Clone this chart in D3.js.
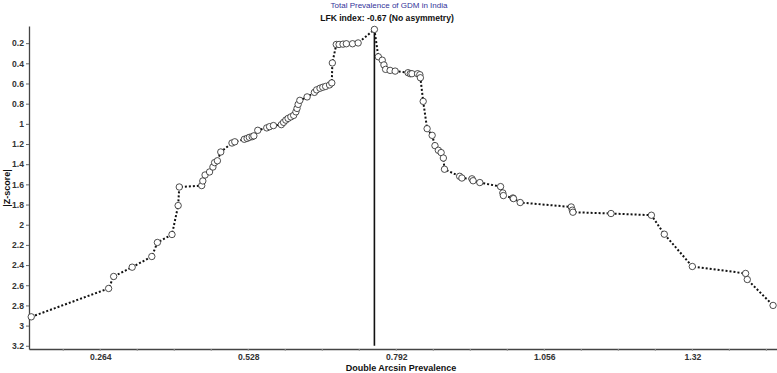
<!DOCTYPE html>
<html lang="en">
<head>
<meta charset="utf-8">
<script src="https://d3js.org/d3.v7.min.js"></script>
<style>
  body { margin: 0; background: #fff; }
  svg text { font-family: "Liberation Sans", Arial, sans-serif; }
</style>
</head>
<body>
<script>
// Doi plot points: effect (double arcsin prevalence) and |Z-score|
const effect = [
  0.141, 0.279, 0.288, 0.321, 0.356, 0.366, 0.392, 0.403, 0.405, 0.445,
  0.447, 0.451, 0.459, 0.465, 0.468, 0.473, 0.479, 0.499, 0.504, 0.521,
  0.526, 0.530, 0.535, 0.538, 0.545, 0.561, 0.566, 0.573, 0.587, 0.591,
  0.595, 0.599, 0.604, 0.609, 0.613, 0.615, 0.617, 0.620, 0.633, 0.646,
  0.650, 0.656, 0.661, 0.666, 0.673, 0.677, 0.678, 0.685, 0.690, 0.697,
  0.703, 0.714, 0.724, 0.753,
  0.760, 0.767, 0.770, 0.773, 0.781, 0.790, 0.813, 0.817, 0.820, 0.830,
  0.834, 0.835, 0.840, 0.847, 0.856, 0.861, 0.867, 0.872, 0.876, 0.878,
  0.905, 0.909, 0.927, 0.929, 0.941, 0.978, 0.982, 0.983, 1.000, 1.001,
  1.013, 1.104, 1.106, 1.107, 1.175, 1.247, 1.270, 1.320, 1.415, 1.418, 1.464
];
const zscore = [
  2.913, 2.632, 2.513, 2.421, 2.315, 2.176, 2.097, 1.810, 1.626, 1.612,
  1.566, 1.507, 1.477, 1.428, 1.384, 1.366, 1.279, 1.190, 1.178, 1.153,
  1.144, 1.134, 1.127, 1.119, 1.064, 1.040, 1.028, 1.017, 1.008, 0.985,
  0.963, 0.946, 0.931, 0.916, 0.881, 0.847, 0.807, 0.767, 0.733, 0.688,
  0.663, 0.647, 0.637, 0.629, 0.614, 0.594, 0.396, 0.213, 0.213, 0.210,
  0.206, 0.206, 0.198, 0.064,
  0.335, 0.369, 0.416, 0.460, 0.470, 0.477, 0.493, 0.503, 0.503, 0.503,
  0.513, 0.543, 0.777, 1.048, 1.114, 1.216, 1.262, 1.285, 1.339, 1.450,
  1.520, 1.537, 1.545, 1.564, 1.582, 1.622, 1.685, 1.711, 1.735, 1.741,
  1.780, 1.824, 1.856, 1.876, 1.889, 1.906, 2.094, 2.414, 2.483, 2.543, 2.800
];
const xTicks = [0.264, 0.528, 0.792, 1.056, 1.32];
const yTicks = [0.2, 0.4, 0.6, 0.8, 1, 1.2, 1.4, 1.6, 1.8, 2, 2.2, 2.4, 2.6, 2.8, 3, 3.2];
const apexEffect = 0.753;   // vertical line through the most precise study
const apexZ = 0.064;
const title = "Total Prevalence of GDM in India";
const subtitle = "LFK index: -0.67 (No asymmetry)";

const width = 777, height = 373;
const svg = d3.select("body").append("svg")
  .attr("width", width).attr("height", height);

const x = d3.scaleLinear().domain([0.137, 1.471]).range([29, 777]);
const y = d3.scaleLinear().domain([0.03, 3.232]).range([26, 349]);

const data = effect.map((e, i) => ({ x: e, z: zscore[i] }));

// titles
svg.append("text").attr("x", 389).attr("y", 8)
  .attr("text-anchor", "middle").attr("font-size", 8).attr("fill", "#333399")
  .text(title);
svg.append("text").attr("x", 387).attr("y", 21)
  .attr("text-anchor", "middle").attr("font-size", 8.6).attr("font-weight", "bold")
  .attr("fill", "#111").text(subtitle);

// x axis
const xAxis = svg.append("g").attr("transform", "translate(0,349)");
xAxis.call(d3.axisBottom(x).tickValues(xTicks).tickSize(0).tickPadding(0)
  .tickFormat(d => String(d)));
xAxis.select(".domain").attr("stroke", "#444").attr("stroke-width", 1.3);
xAxis.selectAll("text").attr("font-size", 8.6).attr("font-weight", "bold")
  .attr("fill", "#333").attr("y", 10.5).attr("dy", null);
// minor ticks
xAxis.selectAll(".minor").data(d3.range(0.198, 1.47, 0.066))
  .enter().append("line").attr("class", "minor")
  .attr("x1", d => x(d)).attr("x2", d => x(d))
  .attr("y1", 0).attr("y2", 2).attr("stroke", "#999");

// y axis
const yAxis = svg.append("g").attr("transform", "translate(29,0)");
yAxis.call(d3.axisLeft(y).tickValues(yTicks).tickSize(3).tickPadding(2)
  .tickSizeOuter(0).tickFormat(d => String(+d.toFixed(1))));
yAxis.select(".domain").attr("stroke", "#444").attr("stroke-width", 1.3);
yAxis.selectAll(".tick line").attr("stroke", "#666");
yAxis.selectAll("text").attr("font-size", 8.6).attr("font-weight", "bold").attr("fill", "#333");

// axis titles
svg.append("text").attr("x", 401).attr("y", 371)
  .attr("text-anchor", "middle").attr("font-size", 9).attr("font-weight", "bold")
  .attr("fill", "#111").text("Double Arcsin Prevalence");
svg.append("text").attr("transform", "translate(9.5,188) rotate(-90)")
  .attr("text-anchor", "middle").attr("font-size", 9).attr("font-weight", "bold")
  .attr("fill", "#111").text("|Z-score|");

// vertical reference line
svg.append("line")
  .attr("x1", x(apexEffect)).attr("x2", x(apexEffect))
  .attr("y1", y(apexZ)).attr("y2", y(3.2))
  .attr("stroke", "#111").attr("stroke-width", 1.6);

// dotted connecting line
svg.append("path").datum(data)
  .attr("fill", "none").attr("stroke", "#111").attr("stroke-width", 2)
  .attr("stroke-dasharray", "2,2")
  .attr("d", d3.line().x(d => x(d.x)).y(d => y(d.z)));

// open circle markers
svg.selectAll("circle.pt").data(data).enter().append("circle")
  .attr("class", "pt")
  .attr("cx", d => x(d.x)).attr("cy", d => y(d.z)).attr("r", 3.2)
  .attr("fill", "#fff").attr("stroke", "#222").attr("stroke-width", 0.8);
</script>
</body>
</html>
